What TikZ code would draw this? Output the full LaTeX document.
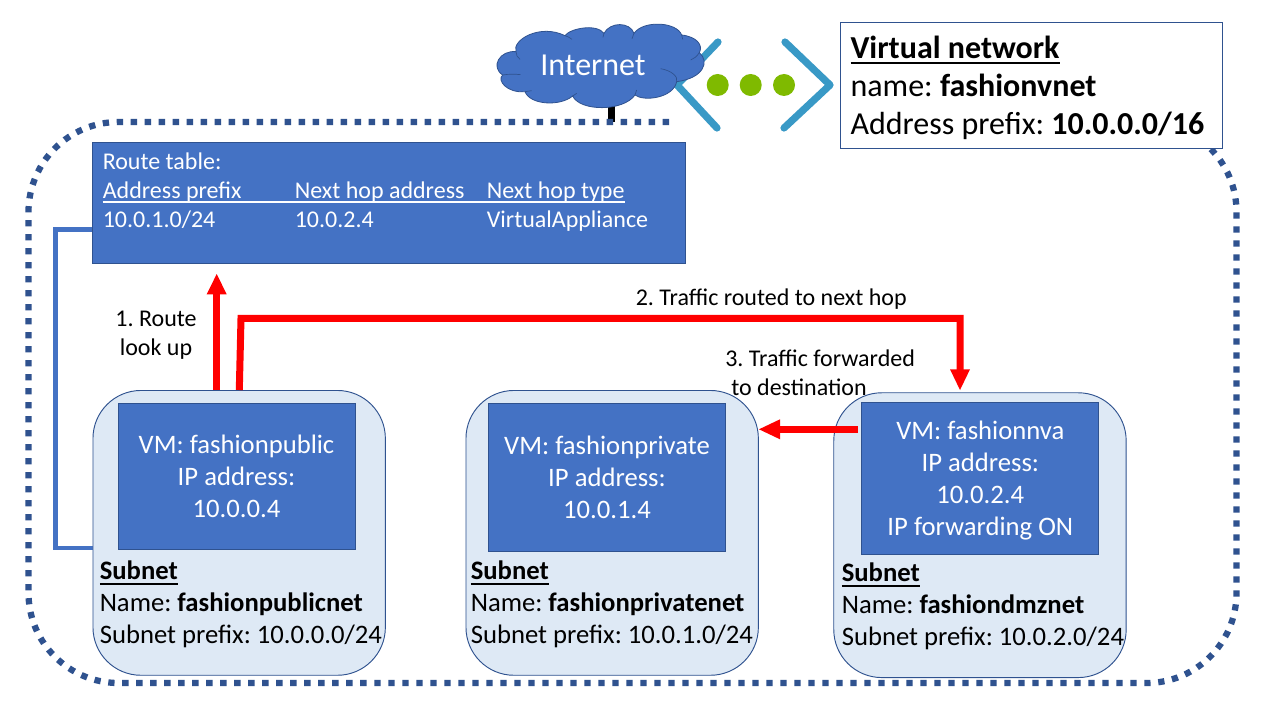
\documentclass[tikz,border=0pt]{standalone}
\usepackage{fontspec}
\setmainfont{Carlito}
\AtBeginDocument{\frenchspacing}
\definecolor{fillblue}{HTML}{4472C4}
\definecolor{edgeblue}{HTML}{2F528F}
\definecolor{lightblue}{HTML}{DEE9F5}
\definecolor{chev}{HTML}{3999C6}
\definecolor{dotgreen}{HTML}{7FBA00}
\newlength\ulwd
\newcommand{\thickul}[1]{\settowidth{\ulwd}{#1}#1\hspace{-\ulwd}\rule[-3.6pt]{\ulwd}{1.5pt}}
\tikzset{
  px/.style={x=0.75pt,y=-0.75pt},
  subnetbox/.style={draw=edgeblue,fill=lightblue,rounded corners=36pt,line width=0.7pt,minimum width=219.3pt,minimum height=213.6pt,inner sep=0pt,anchor=north west},
  vmbox/.style={draw=edgeblue,fill=fillblue,line width=0.7pt,inner sep=0pt,anchor=north west,minimum width=177.8pt},
  vmtext/.style={text=white,align=center,font=\fontsize{20}{24}\selectfont,inner sep=0pt},
  redline/.style={draw=red,line width=5.25pt},
  redhead/.style={fill=red},
  lbl/.style={inner sep=0pt,align=left,anchor=north west},
  sublbl/.style={lbl,font=\fontsize{20}{23.8}\selectfont},
  caption/.style={inner sep=0pt,anchor=base,font=\fontsize{18}{22}\selectfont},
  rthead/.style={inner sep=0pt,anchor=base west,text=white,font=\fontsize{18}{20}\selectfont},
  chevline/.style={draw=chev,line width=5.4pt,line cap=round,line join=round},
  greendot/.style={circle,fill=dotgreen,minimum size=16.5pt,inner sep=0pt},
}
\begin{document}
\begin{tikzpicture}[px]
\useasboundingbox (0,0) rectangle (1280,720);
\fill[white] (0,0) rectangle (1280,720);
% connector cloud to vnet
\coordinate (inetdrop) at (611.7,122);
\coordinate (inetup) at (611.7,100);
\draw[black,line width=5pt] (inetup) -- (inetdrop);
% dotted vnet border
\draw[edgeblue,line width=4.7pt,dash pattern=on 4.7pt off 5.8pt,rounded corners=67.5pt]
  (669,122) -- (28.5,122) -- (28.5,683) -- (1236.5,683) -- (1236.5,122) -- (835,122);
% chevrons
\draw[chevline] (718,42) -- (677,85) -- (717,128);
\draw[chevline] (785,42) -- (830,85) -- (784,128);
\node[greendot] (d1) at (717.7,85) {};
\node[greendot] (d2) at (750.7,85) {};
\node[greendot] (d3) at (784,85) {};
% cloud
\begin{scope}[shift={(480pt*0.75,0)},x=0.25pt,y=-0.25pt]
\path[draw=edgeblue,fill=fillblue,line width=0.6pt]
 (108,155) .. controls (95,120) and (180,70) .. (255,107)
 .. controls (270,85) and (350,70) .. (372,100)
 .. controls (390,65) and (450,65) .. (462,100)
 .. controls (490,60) and (590,65) .. (605,105)
 .. controls (650,110) and (670,135) .. (658,158)
 .. controls (690,185) and (670,235) .. (590,245)
 .. controls (580,295) and (490,305) .. (465,285)
 .. controls (430,335) and (300,335) .. (278,288)
 .. controls (240,320) and (150,315) .. (135,275)
 .. controls (80,280) and (50,240) .. (68,225)
 .. controls (30,200) and (60,150) .. (108,155) -- cycle;
\draw[edgeblue,line width=0.5pt] (68,225) .. controls (85,222) and (105,222) .. (122,224);
\draw[edgeblue,line width=0.5pt] (108,155) .. controls (108,165) and (112,172) .. (120,178);
\draw[edgeblue,line width=0.5pt] (255,107) .. controls (262,110) and (270,112) .. (276,118);
\draw[edgeblue,line width=0.5pt] (372,100) -- (369,112);
\draw[edgeblue,line width=0.5pt] (462,100) -- (456,116);
\draw[edgeblue,line width=0.5pt] (605,105) -- (608,118);
\draw[edgeblue,line width=0.5pt] (658,158) .. controls (650,170) and (642,176) .. (632,180);
\draw[edgeblue,line width=0.5pt] (590,245) .. controls (595,230) and (575,212) .. (542,206);
\draw[edgeblue,line width=0.5pt] (465,285) -- (470,270);
\draw[edgeblue,line width=0.5pt] (278,288) -- (290,280);
\draw[edgeblue,line width=0.5pt] (135,275) -- (155,272);
\end{scope}
\node[inner sep=0pt,text=white,font=\fontsize{24}{28}\selectfont] (internet) at (593,65) {Internet};
% vnet box
\node[draw=edgeblue,fill=white,line width=0.8pt,minimum width=286pt,minimum height=94.5pt,anchor=north west,inner sep=0pt] (vnet) at (840.3,22.3) {};
\node[lbl,font=\fontsize{24}{28.5}\selectfont] (vnettxt) at (850.3,36) {\thickul{\textbf{Virtual network}}\\name: \textbf{fashionvnet}\\Address prefix: \textbf{10.0.0.0/16}};
% side connector
\coordinate (sidetop) at (92,229.5);
\coordinate (sidebot) at (93,548);
\draw[fillblue,line width=3.6pt] (sidetop) -- (55.5,229.5) -- (55.5,548) -- (sidebot);
% route table
\node[draw=edgeblue,fill=fillblue,line width=0.8pt,minimum width=444.7pt,minimum height=90.7pt,anchor=north west,inner sep=0pt] (rt) at (92.3,142.3) {};
\node[rthead] (rt0) at (102.5,169.5) {Route table:};
\node[rthead] (rt1) at (102.5,199) {Address prefix};
\node[rthead] (rt2) at (294.5,199) {Next hop address};
\node[rthead] (rt3) at (486.5,199) {Next hop type};
\node[rthead] (rt4) at (102.5,228) {10.0.1.0/24};
\node[rthead] (rt5) at (294.5,228) {10.0.2.4};
\node[rthead] (rt6) at (486.5,228) {VirtualAppliance};
\draw[white,line width=1.4pt] (rt1.base west |- 0,201.7) -- (rt3.base east |- 0,201.7);
% subnets
\node[subnetbox] (s1) at (92.5,390) {};
\node[subnetbox] (s2) at (465.5,390) {};
\node[subnetbox] (s3) at (833.3,392.3) {};
% vms
\node[vmbox,minimum height=109.8pt] (vm1) at (117.5,403) {};
\node[vmbox,minimum height=111pt] (vm2) at (488,403) {};
\node[vmbox,minimum height=114pt] (vm3) at (861.3,402.3) {};
\node[vmtext] (vm1t) at (vm1.center) {VM: fashionpublic\\IP address:\\10.0.0.4};
\node[vmtext] (vm2t) at (vm2.center) {VM: fashionprivate\\IP address:\\10.0.1.4};
\node[vmtext,yshift=-1.5pt] (vm3t) at (vm3.center) {VM: fashionnva\\IP address:\\10.0.2.4\\IP forwarding ON};
% subnet labels
\node[sublbl] (l1) at (99.5,561) {\thickul{\textbf{Subnet}}\\Name: \textbf{fashionpublicnet}\\Subnet prefix: 10.0.0.0/24};
\node[sublbl] (l2) at (470.5,561) {\thickul{\textbf{Subnet}}\\Name: \textbf{fashionprivatenet}\\Subnet prefix: 10.0.1.0/24};
\node[sublbl] (l3) at (841.5,563) {\thickul{\textbf{Subnet}}\\Name: \textbf{fashiondmznet}\\Subnet prefix: 10.0.2.0/24};
% red arrows
\coordinate (a1s) at (216.7,390);
\coordinate (a1e) at (216.7,294);
\draw[redline] (a1s) -- (a1e);
\fill[redhead] (216.7,274) -- (226.7,294.3) -- (206.7,294.3) -- cycle;
\coordinate (a2s) at (239.3,390);
\coordinate (a2c) at (241,318.3);
\coordinate (a2d) at (960,318.3);
\coordinate (a2e) at (960,370);
\draw[redline,line join=miter] (a2s) -- (a2c) -- (a2d) -- (a2e);
\fill[redhead] (960,390) -- (950,369.3) -- (970,369.3) -- cycle;
\coordinate (a3s) at (857.7,429.3);
\coordinate (a3e) at (780,429.3);
\draw[redline] (a3s) -- (a3e);
\fill[redhead] (759,429.3) -- (780,419.3) -- (780,439.3) -- cycle;
% captions
\node[caption] (c1a) at (156,326) {1. Route};
\node[caption] (c1b) at (156,355) {look up};
\node[caption,anchor=base west] (c2) at (635.5,305.5) {2. Traffic routed to next hop};
\node[caption,anchor=base west] (c3a) at (725,366) {3. Traffic forwarded};
\node[caption,anchor=base west] (c3b) at (731,395) {to destination};
\end{tikzpicture}
\end{document}
